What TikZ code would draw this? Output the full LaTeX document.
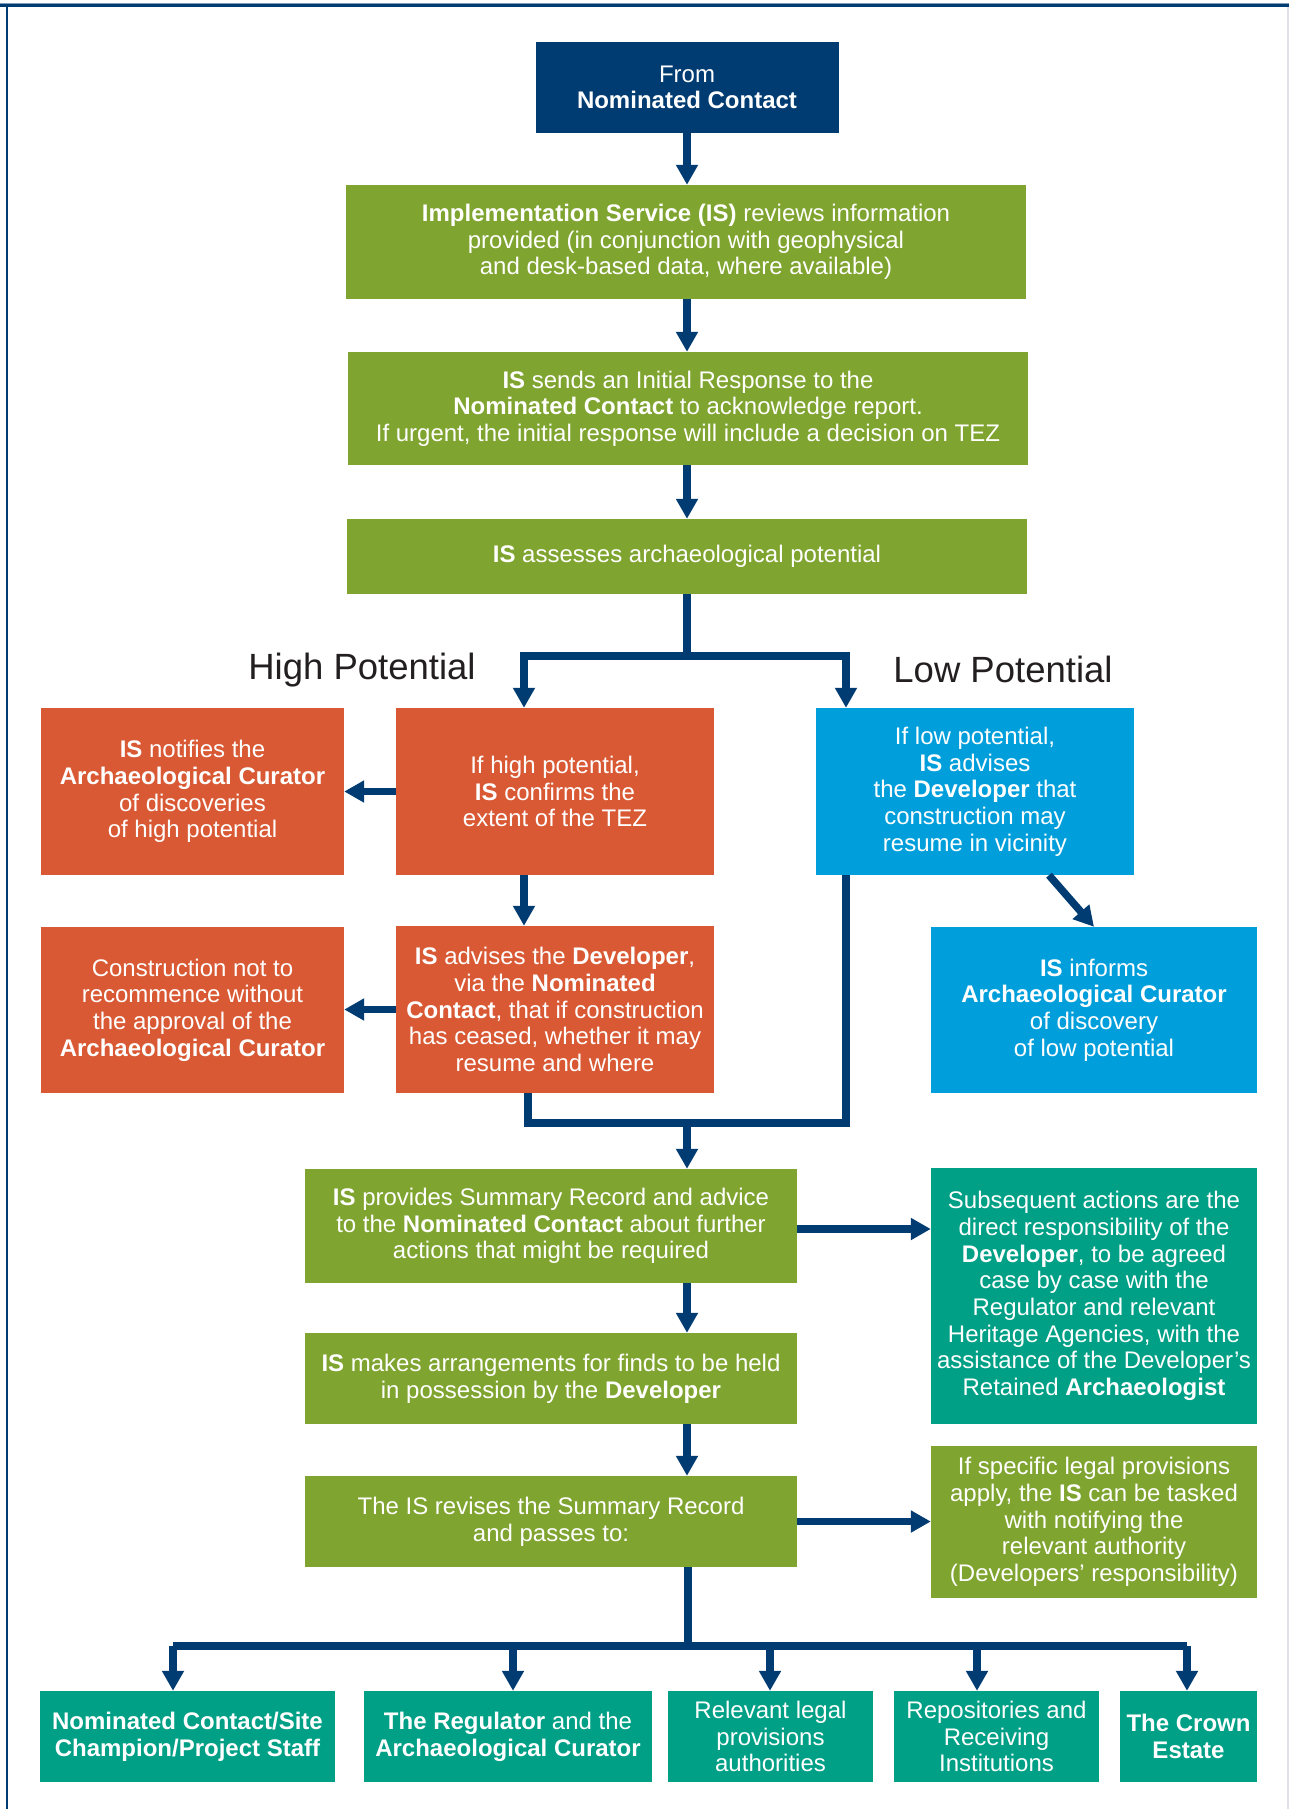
\documentclass[tikz,border=0pt]{standalone}
\usepackage{fontspec}
\setmainfont{Liberation Sans}
\usetikzlibrary{arrows.meta,calc}
\definecolor{navy}{RGB}{0,59,113}
\definecolor{framelight}{RGB}{125,155,182}
\definecolor{framegray}{RGB}{222,226,232}
\definecolor{cgreen}{RGB}{127,164,47}
\definecolor{corange}{RGB}{217,89,52}
\definecolor{cblue}{RGB}{0,159,219}
\definecolor{cteal}{RGB}{0,160,134}
\definecolor{headtxt}{RGB}{35,31,32}
\begin{document}
\begin{tikzpicture}[x=1pt,y=-1pt,
  box/.style={inner sep=0pt, align=center, text=white, font=\fontsize{24}{26.7}\selectfont},
  greenbox/.style={box, fill=cgreen},
  orangebox/.style={box, fill=corange},
  bluebox/.style={box, fill=cblue},
  tealbox/.style={box, fill=cteal},
  navybox/.style={box, fill=navy},
  conn/.style={draw=navy, line width=7.5pt, line join=miter},
  arr/.style={conn, -{Triangle[width=21pt,length=20pt]}},
  heading/.style={anchor=base, font=\fontsize{36.5}{40}\selectfont, text=headtxt, inner sep=0pt}
]
\useasboundingbox (0,0) rectangle (1289,1809);
\fill[white] (0,0) rectangle (1289,1809);
% frame
\draw[framelight, line width=1pt] (0,3.8) -- (1289,3.8);
\draw[navy, line width=3pt] (0,5.8) -- (1289,5.8);
\draw[navy, line width=2pt] (6.7,5) -- (6.7,1809);
\draw[framegray, line width=1.5pt] (1288.2,7) -- (1288.2,1809);

% boxes
\node[navybox, minimum width=303pt, minimum height=91pt] (from) at (687,87.5)
  {From\\\textbf{Nominated Contact}};
\node[greenbox, minimum width=680pt, minimum height=114pt] (reviews) at (686,242)
  {\textbf{Implementation Service (IS)} reviews information\\provided (in conjunction with geophysical\\and desk-based data, where available)};
\node[greenbox, minimum width=680pt, minimum height=113pt] (response) at (688,408.5)
  {\textbf{IS} sends an Initial Response to the\\\textbf{Nominated Contact} to acknowledge report.\\If urgent, the initial response will include a decision on TEZ};
\node[greenbox, minimum width=680pt, minimum height=75pt] (assesses) at (687,556.5)
  {\textbf{IS} assesses archaeological potential};

\node[heading] (hhead) at (362,679) {High Potential};
\node[heading] (lhead) at (1003,682) {Low Potential};

\node[orangebox, minimum width=303pt, minimum height=167pt] (hnotify) at (192.5,791.5)
  {\textbf{IS} notifies the\\\textbf{Archaeological Curator}\\of discoveries\\of high potential};
\node[orangebox, minimum width=318pt, minimum height=167pt] (hconfirm) at (555,791.5)
  {If high potential,\\\textbf{IS} confirms the\\extent of the TEZ};
\node[bluebox, minimum width=318pt, minimum height=167pt] (lowadv) at (975,791.5)
  {If low potential,\\\textbf{IS} advises\\the \textbf{Developer} that\\construction may\\resume in vicinity};

\node[orangebox, minimum width=303pt, minimum height=166pt] (hconstr) at (192.5,1010)
  {Construction not to\\recommence without\\the approval of the\\\textbf{Archaeological Curator}};
\node[orangebox, minimum width=318pt, minimum height=167pt] (hadvise) at (555,1009.5)
  {\textbf{IS} advises the \textbf{Developer},\\via the \textbf{Nominated}\\\textbf{Contact}, that if construction\\has ceased, whether it may\\resume and where};
\node[bluebox, minimum width=326pt, minimum height=166pt] (lowinform) at (1094,1010)
  {\textbf{IS} informs\\\textbf{Archaeological Curator}\\of discovery\\of low potential};

\node[greenbox, minimum width=492pt, minimum height=114pt] (summary) at (551,1226)
  {\textbf{IS} provides Summary Record and advice\\to the \textbf{Nominated Contact} about further\\actions that might be required};
\node[tealbox, minimum width=326pt, minimum height=256pt] (subsequent) at (1094,1296)
  {Subsequent actions are the\\direct responsibility of the\\\textbf{Developer}, to be agreed\\case by case with the\\Regulator and relevant\\Heritage Agencies, with the\\assistance of the Developer’s\\Retained \textbf{Archaeologist}};
\node[greenbox, minimum width=492pt, minimum height=91pt] (arrange) at (551,1378.5)
  {\textbf{IS} makes arrangements for finds to be held\\in possession by the \textbf{Developer}};
\node[greenbox, minimum width=492pt, minimum height=91pt] (revise) at (551,1521.5)
  {The IS revises the Summary Record\\and passes to:};
\node[greenbox, minimum width=326pt, minimum height=152pt] (specific) at (1094,1522)
  {If specific legal provisions\\apply, the \textbf{IS} can be tasked\\with notifying the\\relevant authority\\(Developers’ responsibility)};

\node[tealbox, minimum width=295pt, minimum height=91pt] (bota) at (187.5,1736.5)
  {\textbf{Nominated Contact/Site}\\\textbf{Champion/Project Staff}};
\node[tealbox, minimum width=288pt, minimum height=91pt] (botb) at (508,1736.5)
  {\textbf{The Regulator} and the\\\textbf{Archaeological Curator}};
\node[tealbox, minimum width=205pt, minimum height=91pt] (botc) at (770.5,1736.5)
  {Relevant legal\\provisions\\authorities};
\node[tealbox, minimum width=205pt, minimum height=91pt] (botd) at (996.5,1736.5)
  {Repositories and\\Receiving\\Institutions};
\node[tealbox, minimum width=137pt, minimum height=91pt] (bote) at (1188.5,1736.5)
  {\textbf{The Crown}\\\textbf{Estate}};

% connectors
\coordinate (col) at (687,0);
\draw[arr] (from.south -| col) -- (reviews.north -| col);
\draw[arr] (reviews.south -| col) -- (response.north -| col);
\draw[arr] (response.south -| col) -- (assesses.north -| col);

\coordinate (hl) at (524,656);
\coordinate (lr) at (846,656);
\coordinate (sp) at (687,656);
\draw[conn] (assesses.south -| col) -- (sp);
\draw[arr] (sp) -- (hl) -- (hl |- hconfirm.north);
\draw[arr] (sp) -- (lr) -- (lr |- lowadv.north);

\draw[arr] (hconfirm.west) -- (hnotify.east |- hconfirm.west);
\draw[arr] (hconfirm.south -| hl) -- (hadvise.north -| hl);
\draw[arr] (hadvise.west) -- (hconstr.east |- hadvise.west);
\draw[arr] ($(lowadv.south)+(74,0)$) -- (lowinform.north);

\coordinate (ml) at (528,1123);
\coordinate (mr) at (846,1123);
\coordinate (mc) at (687,1123);
\draw[conn] (hadvise.south -| ml) -- (ml) -- (mr) -- (mr |- lowadv.south);
\draw[arr] (mc) -- (summary.north -| mc);

\coordinate (ha) at (0,1229);
\draw[arr] (summary.east |- ha) -- (subsequent.west |- ha);
\draw[arr] (summary.south -| mc) -- (arrange.north -| mc);
\draw[arr] (arrange.south -| mc) -- (revise.north -| mc);
\draw[arr] (revise.east) -- (specific.west |- revise.east);

\coordinate (bs) at (688,1646);
\coordinate (ba) at (173,1646);
\coordinate (bb) at (513,1646);
\coordinate (bc) at (770,1646);
\coordinate (bd) at (977,1646);
\coordinate (be) at (1187,1646);
\draw[conn] (revise.south -| bs) -- (bs);
\draw[conn] (ba) -- (be);
\draw[arr] (ba) -- (ba |- bota.north);
\draw[arr] (bb) -- (bb |- botb.north);
\draw[arr] (bc) -- (bc |- botc.north);
\draw[arr] (bd) -- (bd |- botd.north);
\draw[arr] (be) -- (be |- bote.north);
\end{tikzpicture}
\end{document}
